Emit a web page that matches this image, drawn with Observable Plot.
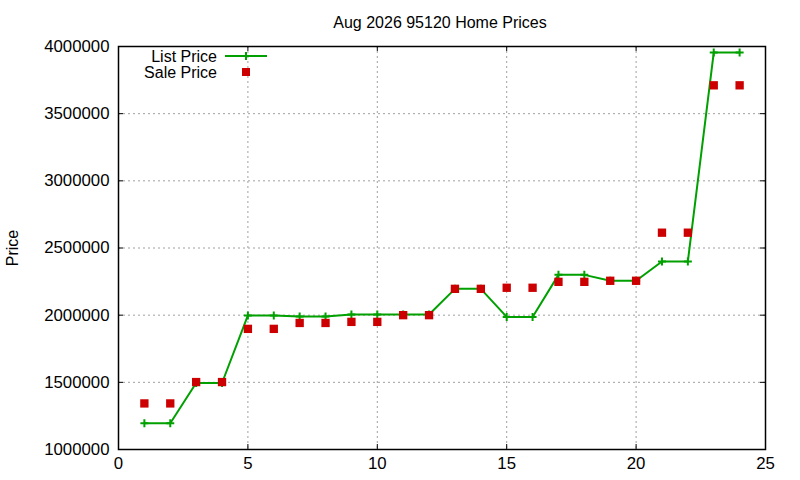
<!DOCTYPE html>
<html><head><meta charset="utf-8">
<script src="https://cdn.jsdelivr.net/npm/d3@7"></script>
<script src="https://cdn.jsdelivr.net/npm/@observablehq/plot@0.6"></script>
<style>
body{margin:0;background:#fff;font-family:"Liberation Sans",Arial,sans-serif}
#wrap{position:relative;width:800px;height:480px}
#legend{position:absolute;left:0;top:0;pointer-events:none}
</style>
</head><body>
<div id="wrap"><div id="chart"></div>
<svg id="legend" width="800" height="480"></svg></div>
<script>
const title = "Aug 2026 95120 Home Prices";
const yLabel = "Price";
const months = [1,2,3,4,5,6,7,8,9,10,11,12,13,14,15,16,17,18,19,20,21,22,23,24];
const listPrice = [1195000,1195000,1495000,1495000,1998000,1998000,1990000,1990000,2005000,2005000,2005000,2005000,
                   2196000,2196000,1987000,1987000,2300000,2300000,2256000,2256000,2400000,2400000,3955000,3955000];
const salePrice = [1343000,1343000,1502000,1502000,1898000,1898000,1942000,1942000,1950000,1950000,2000000,2000000,
                   2196000,2196000,2204000,2204000,2248000,2248000,2256000,2256000,2614000,2614000,3711000,3711000];
const xTicks = [0,5,10,15,20,25];
const yTicks = [1000000,1500000,2000000,2500000,3000000,3500000,4000000];
const seriesNames = ["List Price","Sale Price"];

const green = "#00a000", red = "#cc0000";
const W = 800, H = 480, mL = 118, mR = 35, mT = 46, mB = 31;
const plotW = W - mL - mR, plotH = H - mT - mB;
const tickLen = 5;

const listData = months.map((m,i)=>({x:m, y:listPrice[i]}));
const saleData = months.map((m,i)=>({x:m, y:salePrice[i]}));

const plusSymbol = {draw(ctx, size){ const r = Math.sqrt(size/Math.PI); ctx.moveTo(-r,0); ctx.lineTo(r,0); ctx.moveTo(0,-r); ctx.lineTo(0,r);} };

const innerX = xTicks.slice(1,-1), innerY = yTicks.slice(1,-1);

const chart = Plot.plot({
  width: W, height: H,
  marginLeft: mL, marginRight: mR, marginTop: mT, marginBottom: mB,
  style: {fontFamily: "Liberation Sans, Arial, sans-serif", fontSize: "16.8px", background: "white", color: "black"},
  x: {domain: [0,25]},
  y: {domain: [1000000,4000000]},
  marks: [
    Plot.ruleY(innerY, {stroke: "#a0a0a0", strokeDasharray: "2,3", strokeWidth: 1}),
    Plot.ruleX(innerX, {stroke: "#a0a0a0", strokeDasharray: "2,3", strokeWidth: 1}),
    Plot.tickY(yTicks, {y: d=>d, insetRight: plotW - tickLen, stroke: "black", strokeWidth: 1}),
    Plot.tickY(yTicks, {y: d=>d, insetLeft: plotW - tickLen, stroke: "black", strokeWidth: 1}),
    Plot.tickX(xTicks, {x: d=>d, insetTop: plotH - tickLen, stroke: "black", strokeWidth: 1}),
    Plot.tickX(xTicks, {x: d=>d, insetBottom: plotH - tickLen, stroke: "black", strokeWidth: 1}),
    Plot.axisX({ticks: xTicks, tickSize: 0, tickPadding: 8, label: null, tickFormat: d=>String(d)}),
    Plot.axisY({ticks: yTicks, tickSize: 0, tickPadding: 9, label: null, tickFormat: d=>String(d)}),
    Plot.frame({stroke: "black", strokeWidth: 1.5}),
    Plot.line(listData, {x: "x", y: "y", stroke: green, strokeWidth: 2}),
    Plot.dot(listData, {x: "x", y: "y", symbol: plusSymbol, r: 4, stroke: green, strokeWidth: 2, fill: "none"}),
    Plot.dot(saleData, {x: "x", y: "y", symbol: "square", r: 4.7, fill: red, stroke: "none"}),
    Plot.text([title], {frameAnchor: "top", dy: -30, dx: -2, fontSize: 16}),
    Plot.text([yLabel], {frameAnchor: "left", dx: -106, rotate: -90, textAnchor: "middle", lineAnchor: "middle", fontSize: 16})
  ]
});
document.getElementById("chart").append(chart);

// legend overlay
const lg = d3.select("#legend");
const rows = [{name: seriesNames[0], y: 56, kind: "line"}, {name: seriesNames[1], y: 72, kind: "square"}];
rows.forEach(r => {
  lg.append("text").attr("x", 217).attr("y", r.y).attr("dy", "0.35em").attr("text-anchor", "end")
    .attr("font-size", 16).attr("font-family", "Liberation Sans, Arial, sans-serif").text(r.name);
  if (r.kind === "line") {
    lg.append("line").attr("x1", 225).attr("x2", 267).attr("y1", r.y).attr("y2", r.y).attr("stroke", green).attr("stroke-width", 2);
    lg.append("path").attr("d", `M242,${r.y}h8M246,${r.y-4}v8`).attr("stroke", green).attr("stroke-width", 2);
  } else {
    lg.append("rect").attr("x", 242).attr("y", r.y-4).attr("width", 8).attr("height", 8).attr("fill", red);
  }
});
</script>
</body></html>
